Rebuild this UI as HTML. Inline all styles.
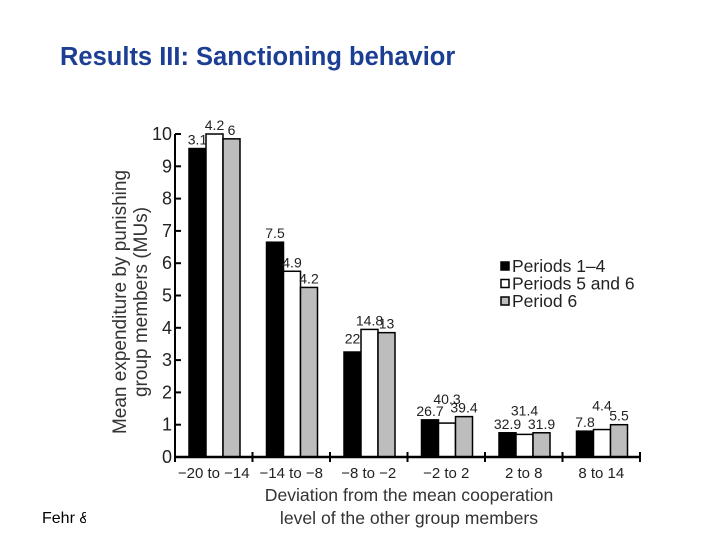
<!DOCTYPE html>
<html><head><meta charset="utf-8"><style>
body{margin:0;background:#fff;}
svg text{font-family:"Liberation Sans",Arial,sans-serif;}
</style></head><body>
<svg width="720" height="540" viewBox="0 0 720 540" xmlns="http://www.w3.org/2000/svg">
<text x="60" y="65" font-size="25.5" font-weight="bold" fill="#1c3f94">Results III: Sanctioning behavior</text>
<text x="42" y="523" font-size="16" fill="#000">Fehr &amp;</text>
<rect x="86" y="500" width="60" height="30" fill="#fff"/>
<g id="plot"></g>
</svg>
<script>
const categories=["\u221220 to \u221214","\u221214 to \u22128","\u22128 to \u22122","\u22122 to 2","2 to 8","8 to 14"];
const seriesNames=["Periods 1\u20134","Periods 5 and 6","Period 6"];
const s1=[9.55,6.65,3.25,1.15,0.75,0.8];
const s2=[10.0,5.75,3.95,1.05,0.7,0.85];
const s3=[9.85,5.25,3.85,1.25,0.75,1.0];
const n1=["3.1","7.5","22","26.7","32.9","7.8"];
const n2=["4.2","4.9","14.8","40.3","31.4","4.4"];
const n3=["6","4.2","13","39.4","31.9","5.5"];
const yTicks=[0,1,2,3,4,5,6,7,8,9,10];
const NS="http://www.w3.org/2000/svg";
const g=document.getElementById('plot');
const X0=175,X1=640,Y0=457,Y10=134;
const gw=(X1-X0)/categories.length;
function y(v){return Y0-(Y0-Y10)*v/10;}
function xg(i){return X0+gw*i;}
function mk(t,a,txt){const e=document.createElementNS(NS,t);for(const k in a)e.setAttribute(k,a[k]);if(txt!==undefined)e.textContent=txt;g.appendChild(e);return e;}
const fills=["#000","#fff","#bdbdbd"];
const series=[s1,s2,s3],notes=[n1,n2,n3];
for(let i=0;i<categories.length;i++){
 for(let s=0;s<3;s++){
  const v=series[s][i];const bx=xg(i)+14+s*17;
  const r=mk('rect',{x:bx,y:y(v),width:17,height:Y0-y(v),fill:fills[s],stroke:'#000','stroke-width':1.5});
  
  
  let ly=y(v)-4;
  if(s===1&&v<2) ly-=15;
  if(s===0&&i<3) ly=Math.min(ly,y(series[1][i])+14);
  const t=mk('text',{x:bx+8.5,y:ly,'font-size':14,'text-anchor':'middle',fill:'#222'},notes[s][i]);
  
  
 }
 const c=mk('text',{x:xg(i)+gw/2,y:478,'font-size':15,'text-anchor':'middle',fill:'#222'},categories[i]);
 
 
}
for(let i=0;i<=categories.length;i++){
 const tk=mk('line',{x1:xg(i),x2:xg(i),y1:Y0-5,y2:Y0+5,stroke:'#000','stroke-width':2});
 
 
}
yTicks.forEach(v=>{
 const l=mk('line',{x1:X0,x2:X0+6,y1:y(v),y2:y(v),stroke:'#000','stroke-width':2});
 
 
 const t=mk('text',{x:X0-3,y:y(v)+6,'font-size':18,'text-anchor':'end',fill:'#222'},String(v));
 
 
});
const ax=mk('line',{x1:X0,x2:X0,y1:Y10,y2:Y0,stroke:'#000','stroke-width':2});


const bx=mk('line',{x1:X0,x2:X1,y1:Y0,y2:Y0,stroke:'#000','stroke-width':2.5});


const yt=mk('text',{transform:'translate(126,302) rotate(-90)','font-size':19,'text-anchor':'middle',fill:'#333'});


const a=document.createElementNS(NS,'tspan');a.setAttribute('x',0);a.setAttribute('dy',0);a.textContent='Mean expenditure by punishing';yt.appendChild(a);
const b=document.createElementNS(NS,'tspan');b.setAttribute('x',0);b.setAttribute('dy',21);b.textContent='group members (MUs)';yt.appendChild(b);
const xt1=mk('text',{x:409,y:501,'font-size':17.6,'text-anchor':'middle',fill:'#333'},'Deviation from the mean cooperation');


const xt2=mk('text',{x:409,y:524,'font-size':17.6,'text-anchor':'middle',fill:'#333'},'level of the other group members');


seriesNames.forEach((n,s)=>{
 const ly=267+s*17.5;
 const r=mk('rect',{x:501,y:ly-5,width:8,height:8,fill:fills[s],stroke:'#000','stroke-width':1.5});
 
 
 const t=mk('text',{x:512,y:ly+5,'font-size':17.5,fill:'#222'},n);
 
 
});
</script>
</body></html>
